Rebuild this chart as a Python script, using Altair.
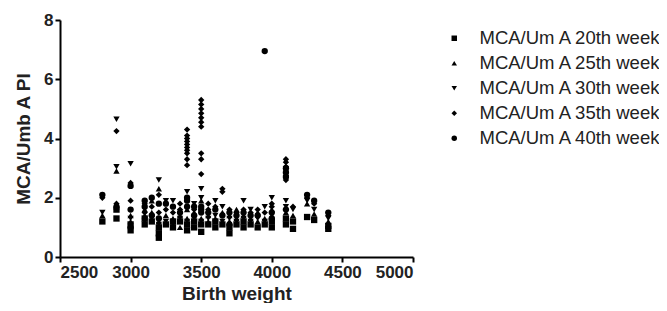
import altair as alt
import pandas as pd

series_names = ["MCA/Um A 20th week", "MCA/Um A 25th week", "MCA/Um A 30th week",
                "MCA/Um A 35th week", "MCA/Um A 40th week"]
shapes = ["square", "triangle-up", "triangle-down", "diamond", "circle"]

s20 = [(2800, 1.2), (2900, 1.3), (2900, 1.6), (3000, 0.9), (3000, 1.1), (3100, 1.1), (3100, 1.3),
       (3150, 1.2), (3200, 0.65), (3200, 0.8), (3200, 1.0), (3250, 1.1), (3300, 1.0), (3300, 1.2),
       (3350, 1.2), (3400, 0.9), (3400, 1.1), (3450, 1.0), (3450, 1.2), (3500, 0.85), (3500, 1.1),
       (3550, 1.1), (3600, 1.0), (3600, 1.2), (3650, 1.1), (3700, 0.8), (3700, 1.0), (3750, 1.1),
       (3800, 1.0), (3800, 1.2), (3850, 1.1), (3900, 1.0), (3950, 1.1), (4000, 1.0), (4000, 1.2),
       (4100, 1.1), (4100, 1.3), (4150, 0.95), (4150, 1.2), (4250, 1.35), (4300, 1.25),
       (4400, 0.95), (4400, 1.05)]
s25 = [(2800, 1.4), (2900, 1.7), (2900, 2.9), (3000, 1.2), (3000, 1.4), (3100, 1.4), (3100, 1.6),
       (3150, 1.5), (3150, 1.9), (3200, 1.2), (3200, 2.3), (3250, 1.4), (3300, 1.3), (3350, 1.4),
       (3350, 1.0), (3400, 1.3), (3400, 1.6), (3450, 1.5), (3500, 1.3), (3500, 1.9), (3550, 1.4),
       (3550, 1.2), (3600, 1.3), (3650, 1.5), (3700, 1.2), (3700, 1.4), (3750, 1.3), (3750, 1.6),
       (3800, 1.4), (3850, 1.3), (3900, 1.2), (3900, 1.5), (3950, 1.3), (4000, 1.4), (4000, 1.6),
       (4100, 1.5), (4150, 1.4), (4250, 1.8), (4300, 1.45), (4400, 1.2)]
s30 = [(2800, 1.5), (2900, 4.65), (2900, 3.05), (3000, 3.15), (3000, 1.3), (3100, 1.2), (3150, 1.3),
       (3200, 1.1), (3200, 2.6), (3250, 1.9), (3250, 1.2), (3300, 1.1), (3300, 1.9), (3350, 1.3),
       (3400, 1.2), (3400, 2.2), (3450, 1.3), (3450, 1.8), (3500, 1.2), (3500, 2.3), (3500, 2.0),
       (3550, 1.3), (3600, 1.4), (3600, 1.9), (3650, 1.2), (3650, 1.7), (3700, 1.3), (3750, 1.2),
       (3800, 1.3), (3800, 1.9), (3850, 1.2), (3850, 1.6), (3900, 1.3), (3950, 1.7), (3950, 1.2),
       (4000, 2.0), (4100, 1.7), (4100, 1.9), (4150, 1.6), (4250, 1.9), (4300, 1.6), (4400, 1.3)]
s35 = [(2800, 2.0), (2900, 4.25), (2900, 1.8), (3000, 2.5), (3000, 1.9), (3100, 1.8), (3100, 1.5),
       (3150, 1.7), (3200, 1.5), (3200, 2.1), (3250, 1.6), (3300, 1.5), (3350, 1.6), (3350, 1.8),
       (3400, 3.1), (3400, 3.3), (3400, 3.5), (3400, 3.6), (3400, 3.7), (3400, 3.8), (3400, 3.9),
       (3400, 4.0), (3400, 4.1), (3400, 4.3), (3450, 1.6),
       (3500, 2.8), (3500, 3.3), (3500, 3.5), (3500, 4.4), (3500, 4.55), (3500, 4.7), (3500, 4.85),
       (3500, 5.0), (3500, 5.15), (3500, 5.3), (3550, 1.6), (3550, 1.8), (3600, 1.7), (3650, 2.2),
       (3650, 2.3), (3700, 1.6), (3750, 1.5), (3800, 1.6), (3850, 1.5), (3900, 1.6), (3950, 1.5),
       (4000, 1.8), (4000, 1.7), (4100, 2.6), (4100, 2.75), (4100, 2.9), (4100, 3.05), (4100, 3.2),
       (4100, 3.3), (4150, 1.7), (4250, 2.0), (4300, 1.8), (4400, 1.4)]
s40 = [(2800, 2.1), (2900, 1.7), (3000, 2.4), (3000, 1.6), (3000, 1.0), (3100, 1.9), (3100, 1.7),
       (3150, 2.0), (3150, 1.4), (3200, 1.8), (3200, 1.3), (3250, 1.8), (3300, 1.7), (3350, 1.5),
       (3400, 2.0), (3400, 1.7), (3400, 1.9), (3450, 1.4), (3450, 1.7), (3500, 1.5), (3500, 1.7),
       (3500, 1.6), (3550, 1.5), (3600, 1.6), (3650, 1.4), (3700, 1.5), (3700, 1.1), (3750, 1.4),
       (3800, 1.5), (3850, 1.4), (3900, 1.4), (3950, 6.95), (4000, 1.5), (4000, 1.3), (4100, 2.7),
       (4100, 2.85), (4100, 3.0), (4100, 1.6), (4250, 2.1), (4300, 1.9), (4400, 1.5)]

rows = []
for name, pts in zip(series_names, [s20, s25, s30, s35, s40]):
    for w, p in pts:
        rows.append({"Birth weight": w, "PI": p, "Series": name})
df = pd.DataFrame(rows)

FONT = "Liberation Sans"

chart = alt.Chart(df).mark_point(filled=True, size=40, color="black", opacity=1).encode(
    x=alt.X("Birth weight:Q",
            scale=alt.Scale(domain=[2500, 5000], nice=False, zero=False),
            axis=alt.Axis(values=[2500, 3000, 3500, 4000, 4500, 5000], format="d",
                          title="Birth weight", grid=False)),
    y=alt.Y("PI:Q",
            scale=alt.Scale(domain=[0, 8], nice=False),
            axis=alt.Axis(values=[0, 2, 4, 6, 8], title="MCA/Umb A PI", grid=False)),
    shape=alt.Shape("Series:N",
                    scale=alt.Scale(domain=series_names, range=shapes),
                    legend=alt.Legend(title=None, orient="none", legendX=385, legendY=9,
                                      labelFont=FONT, labelFontSize=18.5, labelColor="#222",
                                      labelLimit=0,
                                      symbolFillColor="black", symbolStrokeColor="black",
                                      symbolSize=30, labelOffset=16, rowPadding=6)),
).properties(
    width=353, height=237,
    autosize=alt.AutoSizeParams(type="none"),
    padding={"left": 52, "top": 12, "right": 246, "bottom": 46},
).configure_view(stroke=None).configure_axis(
    domainColor="black", domainWidth=2, tickColor="black", tickWidth=2, tickSize=5,
    labelFont=FONT, labelFontSize=17, labelFontWeight="bold", labelColor="#222",
    titleFont=FONT, titleFontSize=19, titleFontWeight="bold", titleColor="#222",
    labelPadding=2,
).configure_axisY(titlePadding=10).configure_axisX(titlePadding=4)

chart.save("out.html", embed_options={"renderer": "svg", "actions": False})
